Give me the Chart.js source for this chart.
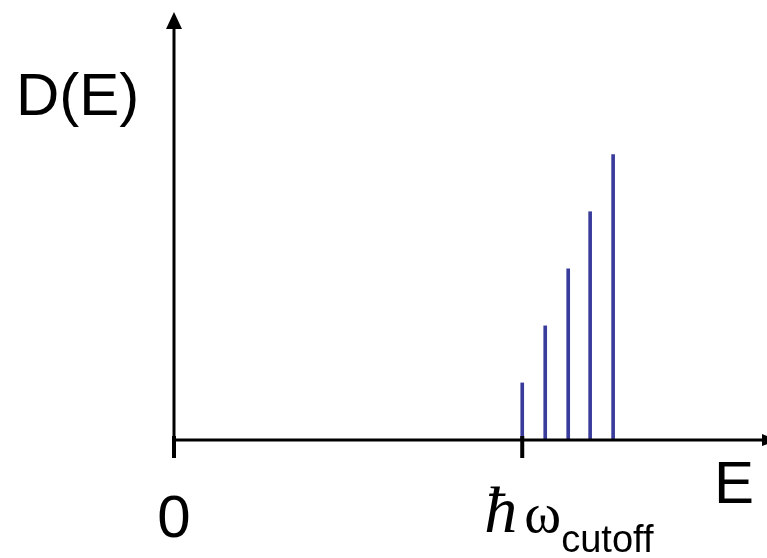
<!DOCTYPE html>
<html>
<head>
<meta charset="utf-8">
<script src="https://cdn.jsdelivr.net/npm/chart.js@4.4.1/dist/chart.umd.min.js"></script>
<style>
    body { margin: 0; background: #fff; }
    #wrap { width: 767px; height: 558px; }
</style>
</head>
<body>
<div id="wrap"><canvas id="dosChart"></canvas></div>
<script>
// Dữ liệu: mức năng lượng (đơn vị ħω_cutoff) và mật độ trạng thái
const energies = [1.0, 1.066, 1.132, 1.195, 1.261];
const densities = [1, 2, 3, 4, 5];
const cutoff = 1.0;
const xTicks = [0, cutoff];

// Plugin vẽ trục có mũi tên, vạch chia và nhãn
const axesPlugin = {
    id: 'axesPlugin',
    afterDraw(chart) {
        const ctx = chart.ctx;
        const area = chart.chartArea;
        const xs = chart.scales.x;
        const y0 = chart.scales.y.getPixelForValue(0);
        const x0 = xs.getPixelForValue(0);

        ctx.save();
        ctx.strokeStyle = '#000';
        ctx.fillStyle = '#000';

        // trục tung
        ctx.lineWidth = 3;
        ctx.beginPath();
        ctx.moveTo(x0, area.top + 14);
        ctx.lineTo(x0, y0);
        ctx.stroke();
        ctx.beginPath();
        ctx.moveTo(x0, area.top);
        ctx.lineTo(x0 - 8, area.top + 17);
        ctx.lineTo(x0 + 8, area.top + 17);
        ctx.closePath();
        ctx.fill();

        // trục hoành
        ctx.beginPath();
        ctx.moveTo(x0, y0);
        ctx.lineTo(area.right - 2, y0);
        ctx.stroke();
        ctx.beginPath();
        ctx.moveTo(area.right - 4, y0 - 6);
        ctx.lineTo(area.right + 12, y0);
        ctx.lineTo(area.right - 4, y0 + 6);
        ctx.closePath();
        ctx.fill();

        // vạch chia
        ctx.lineWidth = 4;
        xTicks.forEach(v => {
            const px = xs.getPixelForValue(v);
            ctx.beginPath();
            ctx.moveTo(px, y0 - 4);
            ctx.lineTo(px, y0 + 18);
            ctx.stroke();
        });

        // nhãn
        ctx.textBaseline = 'alphabetic';
        ctx.font = '60px "Liberation Sans", Arial, sans-serif';
        ctx.textAlign = 'left';
        ctx.fillText('D(E)', 16, 115);
        ctx.fillText('E', 714, 503);
        ctx.textAlign = 'center';
        ctx.fillText('0', x0, 537);

        const xc = xs.getPixelForValue(cutoff);
        ctx.textAlign = 'left';
        ctx.font = 'italic 66px "Liberation Serif", "DejaVu Serif", serif';
        ctx.fillText('ħ', xc - 38, 532);
        ctx.font = '56px "Liberation Serif", "DejaVu Serif", serif';
        ctx.fillText('ω', xc + 2, 532);
        ctx.font = '38px "Liberation Sans", Arial, sans-serif';
        ctx.fillText('cutoff', xc + 39, 552);
        ctx.restore();
    }
};

const ctx = document.getElementById('dosChart').getContext('2d');
new Chart(ctx, {
    type: 'bar',
    data: {
        datasets: [{
            data: energies.map((e, i) => ({ x: e, y: densities[i] })),
            backgroundColor: '#3a3c9c',
            barThickness: 3,
            borderWidth: 0
        }]
    },
    options: {
        responsive: true,
        maintainAspectRatio: false,
        animation: false,
        layout: { padding: { left: 174, right: 1, top: 12, bottom: 118 } },
        plugins: {
            legend: { display: false },
            tooltip: { enabled: false }
        },
        scales: {
            x: { type: 'linear', min: 0, max: 1.7, offset: false, display: false },
            y: { min: 0, max: 7.5, display: false }
        }
    },
    plugins: [axesPlugin]
});
</script>
</body>
</html>
